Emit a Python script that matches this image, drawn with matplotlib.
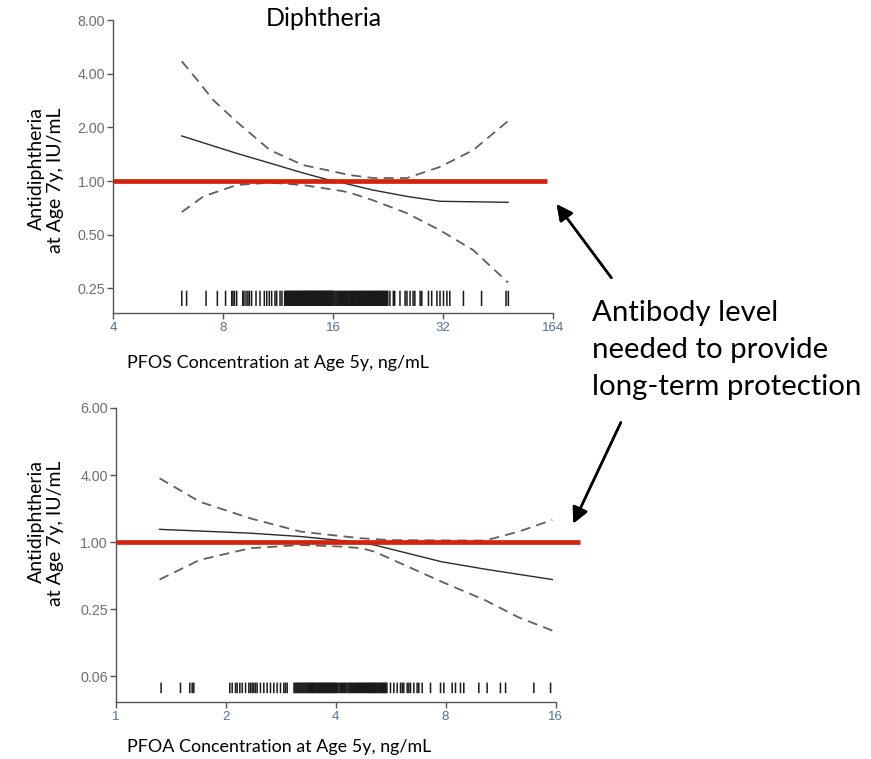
import matplotlib
matplotlib.use("Agg")
import matplotlib.pyplot as plt
from matplotlib.ticker import FixedLocator, FixedFormatter, NullLocator

# ---- PFOS panel (top) ----
pfos_fit_x = [6.17, 8.72, 10.76, 13.24, 15.7, 16.9, 20.6, 25.5, 31.4, 48.2]
pfos_fit_y = [1.79, 1.43, 1.26, 1.11, 1.01, 0.98, 0.89, 0.82, 0.77, 0.76]
pfos_upper_x = [6.17, 6.75, 7.53, 8.72, 10.76, 13.24, 17.8, 20.6, 25.5, 31.4, 38.7, 48.2]
pfos_upper_y = [4.69, 3.76, 2.84, 2.15, 1.49, 1.23, 1.08, 1.04, 1.04, 1.20, 1.49, 2.17]
pfos_lower_x = [6.17, 7.07, 8.72, 10.76, 13.24, 16.9, 17.8, 20.6, 25.5, 31.4, 38.7, 48.2]
pfos_lower_y = [0.67, 0.82, 0.95, 0.98, 0.95, 0.88, 0.86, 0.78, 0.66, 0.53, 0.41, 0.27]
pfos_rug = [
    6.17, 6.36, 7.19, 7.72, 8.13, 8.45, 8.52, 8.60, 8.72, 9.06, 9.13, 9.25, 9.36,
    9.45, 9.58, 9.85, 10.1, 10.38, 10.54, 10.71, 10.87, 11.1, 11.22, 11.46, 11.6,
    11.80, 11.85, 11.90, 11.95, 12.00, 12.05, 12.10, 12.15, 12.20, 12.25, 12.30,
    12.35, 12.40, 12.45, 12.50, 12.55, 12.60, 12.65, 12.70, 12.75, 12.80, 12.85,
    12.90, 12.95, 13.00, 13.05, 13.10, 13.15, 13.20, 13.25, 13.30, 13.35, 13.40,
    13.45, 13.50, 13.55, 13.60, 13.65, 13.70, 13.75, 13.80, 13.85, 13.90, 13.95,
    14.00, 14.05, 14.10, 14.15, 14.20, 14.25, 14.30, 14.35, 14.40, 14.45, 14.50,
    14.55, 14.60, 14.65, 14.70, 14.75, 14.80, 14.85, 14.90, 14.95, 15.00, 15.05,
    15.10, 15.15, 15.20, 15.25, 15.30, 15.35, 15.40, 15.45, 15.50, 15.55, 15.60,
    15.65, 15.70, 15.75, 15.80, 15.85, 15.90, 15.95, 16.00,
    16.1, 16.2, 16.3, 16.4, 16.5, 16.6, 16.7, 16.8, 16.9, 17.0, 17.1, 17.2, 17.3,
    17.4, 17.5, 17.6, 17.7, 17.8, 17.9, 18.0, 18.1, 18.2, 18.3, 18.4, 18.5, 18.6,
    18.7, 18.8, 18.9, 19.0, 19.1, 19.2, 19.3, 19.4, 19.5, 19.6, 19.7, 19.8, 19.9,
    20.0, 20.1, 20.2, 20.3, 20.4, 20.5, 20.6, 20.7, 20.8, 20.9, 21.0, 21.1, 21.2,
    21.3, 21.4, 21.5, 21.6, 21.7, 21.8, 21.9, 22.0, 22.1, 22.2, 22.3, 22.4, 22.5,
    22.6,
    22.9, 23.4, 23.6, 24.4, 25.2, 25.5, 26.0, 26.5, 26.8, 27.7, 28.0, 29.2, 29.8,
    30.8, 31.4, 32.1, 32.8, 33.4, 36.4, 40.8, 47.6, 48.3,
]
pfos_xticks = [4, 8, 16, 32, 64]
pfos_xlabels = ["4", "8", "16", "32", "164"]
pfos_yticks = [8, 4, 2, 1, 0.5, 0.25]
pfos_ylabels = ["8.00", "4.00", "2.00", "1.00", "0.50", "0.25"]
pfos_ref_end = 61.6

# ---- PFOA panel (bottom) ----
pfoa_fit_x = [1.32, 2.34, 3.21, 4.41, 5.11, 6.32, 7.80, 10.27, 15.68]
pfoa_fit_y = [1.30, 1.20, 1.12, 1.01, 0.94, 0.79, 0.665, 0.57, 0.46]
pfoa_upper_x = [1.32, 1.70, 2.34, 3.21, 4.14, 4.70, 5.68, 10.27, 12.69, 15.68]
pfoa_upper_y = [3.74, 2.30, 1.63, 1.24, 1.13, 1.08, 1.04, 1.03, 1.24, 1.58]
pfoa_lower_x = [1.32, 1.70, 2.34, 3.21, 4.14, 4.70, 5.11, 6.32, 7.80, 10.27, 12.69, 15.68]
pfoa_lower_y = [0.46, 0.69, 0.88, 0.94, 0.91, 0.88, 0.82, 0.60, 0.44, 0.30, 0.21, 0.16]
pfoa_rug = [
    1.333, 1.506, 1.597, 1.621, 1.638, 2.055, 2.086, 2.130, 2.152, 2.189, 2.222,
    2.269, 2.317, 2.341, 2.366, 2.391, 2.416, 2.441, 2.493, 2.546, 2.600, 2.655,
    2.712, 2.769, 2.828, 2.888, 2.918, 2.950,
    3.08, 3.10, 3.12, 3.14, 3.16, 3.18, 3.20, 3.22, 3.24, 3.26, 3.28, 3.30, 3.32,
    3.34, 3.36, 3.38, 3.40, 3.42, 3.44, 3.46, 3.48, 3.50, 3.52, 3.54, 3.56, 3.58,
    3.60, 3.62, 3.64, 3.66, 3.68, 3.70, 3.72, 3.74, 3.76, 3.78, 3.80, 3.82, 3.84,
    3.86, 3.88, 3.90, 3.92, 3.94, 3.96, 3.98, 4.00,
    4.03, 4.06, 4.09, 4.12, 4.15, 4.18, 4.21, 4.24, 4.27, 4.30, 4.33, 4.36, 4.39,
    4.42, 4.45, 4.48, 4.51, 4.54, 4.57, 4.60, 4.63, 4.66, 4.69, 4.72, 4.75, 4.78,
    4.81, 4.84, 4.87, 4.90, 4.93, 4.96, 4.99, 5.02, 5.05, 5.08, 5.11, 5.14, 5.17,
    5.20, 5.23, 5.26, 5.29, 5.32, 5.35, 5.38, 5.41, 5.44, 5.47, 5.50, 5.53,
    5.657, 5.777, 5.900, 6.025, 6.089, 6.153, 6.283, 6.350, 6.417, 6.553, 6.692,
    6.763, 6.906, 7.279, 7.753, 7.916, 8.343, 8.520, 8.792, 8.978, 9.870, 10.40,
    11.31, 11.68, 13.96, 15.51,
]
pfoa_xticks = [1, 2, 4, 8, 16]
pfoa_xlabels = ["1", "2", "4", "8", "16"]
pfoa_yticks = [16, 4, 1, 0.25, 0.0625]
pfoa_ylabels = ["6.00", "4.00", "1.00", "0.25", "0.06"]
pfoa_ref_end = 18.67

protective_level = 1.0

W, H = 871, 759
TEXT_FONT = ["Lato", "DejaVu Sans"]
TICK_FONT = ["Liberation Sans", "DejaVu Sans"]
RED = "#d3230f"


def px_axes(fig, left, top, right, bottom):
    return fig.add_axes([left / W, 1 - bottom / H, (right - left) / W, (bottom - top) / H])


def draw_panel(ax, fit, upper, lower, rug, xlim, ylim, xticks, xlabels, yticks, ylabels,
               ref_end, rug_span):
    ax.set_xscale("log", base=2)
    ax.set_yscale("log", base=2)
    ax.set_xlim(*xlim)
    ax.set_ylim(*ylim)

    ax.plot(upper[0], upper[1], color="#5f5f5f", lw=1.3, ls=(0, (5.5, 3.5)))
    ax.plot(lower[0], lower[1], color="#5f5f5f", lw=1.3, ls=(0, (5.5, 3.5)))
    ax.plot(fit[0], fit[1], color="#2b2b2b", lw=1.0)
    ax.plot([xlim[0], ref_end], [protective_level, protective_level],
            color=RED, lw=3.4, clip_on=False, solid_capstyle="butt", zorder=5)

    rug_lines = ax.vlines(rug, rug_span[0], rug_span[1], transform=ax.get_xaxis_transform(),
                          color="#1a1a1a", lw=1.1)
    rug_lines.set_snap(False)

    for s in ["top", "right"]:
        ax.spines[s].set_visible(False)
    for s in ["left", "bottom"]:
        ax.spines[s].set_color("#555555")
        ax.spines[s].set_linewidth(1.0)

    ax.xaxis.set_major_locator(FixedLocator(xticks))
    ax.xaxis.set_major_formatter(FixedFormatter(xlabels))
    ax.xaxis.set_minor_locator(NullLocator())
    ax.yaxis.set_major_locator(FixedLocator(yticks))
    ax.yaxis.set_major_formatter(FixedFormatter(ylabels))
    ax.yaxis.set_minor_locator(NullLocator())

    ax.tick_params(axis="both", direction="out", length=4.5, width=1.0, color="#555555")
    ax.tick_params(axis="x", labelsize=9.5, labelcolor="#4f6f99", pad=2)
    ax.tick_params(axis="y", labelsize=10.3, labelcolor="#6a6e78", pad=1)
    for lab in ax.get_xticklabels() + ax.get_yticklabels():
        lab.set_family(TICK_FONT)


fig = plt.figure(figsize=(W / 100, H / 100), dpi=100)

ax1 = px_axes(fig, 113, 20, 553, 313)
draw_panel(ax1, (pfos_fit_x, pfos_fit_y), (pfos_upper_x, pfos_upper_y),
           (pfos_lower_x, pfos_lower_y), pfos_rug, (4, 64), (0.182, 8),
           pfos_xticks, pfos_xlabels, pfos_yticks, pfos_ylabels, pfos_ref_end,
           (0.024, 0.076))

ax2 = px_axes(fig, 115.5, 408, 555.5, 702)
draw_panel(ax2, (pfoa_fit_x, pfoa_fit_y), (pfoa_upper_x, pfoa_upper_y),
           (pfoa_lower_x, pfoa_lower_y), pfoa_rug, (1, 16), (0.0365, 16),
           pfoa_xticks, pfoa_xlabels, pfoa_yticks, pfoa_ylabels, pfoa_ref_end,
           (0.030, 0.066))

# titles and axis labels
fig.text(324 / W, 1 - 19 / H, "Diphtheria", family=TEXT_FONT, fontsize=18,
         ha="center", va="center")
ylab = "Antidiphtheria\nat Age 7y, IU/mL"
fig.text(46 / W, 1 - 180 / H, ylab, family=TEXT_FONT, fontsize=14, rotation=90,
         ha="center", va="center", multialignment="right", linespacing=1.1)
fig.text(46 / W, 1 - 533 / H, ylab, family=TEXT_FONT, fontsize=14, rotation=90,
         ha="center", va="center", multialignment="right", linespacing=1.1)
fig.text(127 / W, 1 - 363 / H, "PFOS Concentration at Age 5y, ng/mL",
         family=TEXT_FONT, fontsize=12.9, ha="left", va="center")
fig.text(127 / W, 1 - 747 / H, "PFOA Concentration at Age 5y, ng/mL",
         family=TEXT_FONT, fontsize=12.9, ha="left", va="center")

# annotation
fig.text(592 / W, 1 - 350 / H, "Antibody level\nneeded to provide\nlong-term protection",
         family=TEXT_FONT, fontsize=21.2, ha="left", va="center", linespacing=1.53)
arrow = dict(arrowstyle="-|>", color="black", lw=1.8, mutation_scale=24)
fig.add_artist(plt.annotate("", xy=(555 / W, 1 - 202 / H), xytext=(613 / W, 1 - 280 / H),
                            xycoords="figure fraction", textcoords="figure fraction",
                            arrowprops=arrow))
fig.add_artist(plt.annotate("", xy=(572 / W, 1 - 526 / H), xytext=(622 / W, 1 - 420 / H),
                            xycoords="figure fraction", textcoords="figure fraction",
                            arrowprops=arrow))

fig.savefig("out.png", dpi=100)
